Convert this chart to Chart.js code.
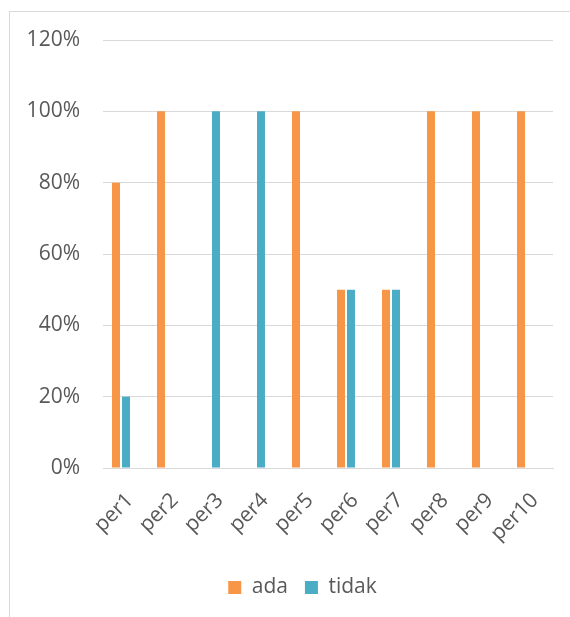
<!DOCTYPE html>
<html>
<head>
<meta charset="utf-8">
<script src="https://cdn.jsdelivr.net/npm/chart.js@4.4.0/dist/chart.umd.min.js"></script>
<style>
  html, body { margin: 0; padding: 0; background: #ffffff; overflow: hidden; }
  #wrap { position: relative; width: 570px; height: 617px; }
  #frame { position: absolute; left: 9px; top: 11px; width: 600px; height: 700px; border: 1px solid #d9d9d9; box-sizing: border-box; }
  canvas { position: absolute; left: 0; top: 0; }
</style>
</head>
<body>
<div id="wrap">
  <div id="frame"></div>
  <canvas id="c" width="570" height="617"></canvas>
</div>
<script>
const categories = ['per1', 'per2', 'per3', 'per4', 'per5', 'per6', 'per7', 'per8', 'per9', 'per10'];
const adaValues = [80, 100, 0, 0, 100, 50, 50, 100, 100, 100];
const tidakValues = [20, 0, 100, 100, 0, 50, 50, 0, 0, 0];
const yTicks = [0, 20, 40, 60, 80, 100, 120];

const fontFamily = '"Open Sans", "Liberation Sans", sans-serif';
const textColor = '#595959';

const legendShift = {
  id: 'legendShift',
  afterLayout(chart) {
    if (chart.legend) { chart.legend.left += 26; chart.legend.right += 26; }
  }
};

const toPoints = (vals) => vals.map((v, i) => ({ x: i + 1, y: v }));

new Chart(document.getElementById('c'), {
  type: 'bar',
  data: {
    datasets: [
      { label: 'ada', data: toPoints(adaValues), backgroundColor: '#F79646', borderWidth: 0,
        categoryPercentage: 0.444, barPercentage: 0.8 },
      { label: 'tidak', data: toPoints(tidakValues), backgroundColor: '#4BACC6', borderWidth: 0,
        categoryPercentage: 0.444, barPercentage: 0.8 }
    ]
  },
  plugins: [legendShift],
  options: {
    responsive: false,
    animation: false,
    devicePixelRatio: 1,
    layout: { padding: { top: 40, right: 17, bottom: 9, left: 0 } },
    plugins: {
      tooltip: { enabled: false },
      legend: {
        position: 'bottom',
        labels: {
          boxWidth: 13, boxHeight: 13, padding: 17,
          color: textColor,
          font: { family: fontFamily, size: 21 }
        }
      }
    },
    scales: {
      x: {
        type: 'linear',
        min: 0.6, max: 10.6,
        offset: false,
        afterBuildTicks: (s) => { s.ticks = categories.map((c, i) => ({ value: i + 1 })); },
        grid: { display: false, drawTicks: false },
        border: { display: true, color: '#d9d9d9', width: 1 },
        ticks: {
          color: textColor, font: { family: fontFamily, size: 21 },
          minRotation: 45, maxRotation: 45, padding: 20, autoSkip: false,
          labelOffset: 9,
          callback: (v, i) => categories[i]
        },
        afterFit: (s) => { s.height = 92; }
      },
      y: {
        min: 0, max: 120,
        afterBuildTicks: (s) => { s.ticks = yTicks.map(v => ({ value: v })); },
        grid: { color: '#d9d9d9', lineWidth: 1, drawTicks: false },
        border: { display: false },
        ticks: {
          color: textColor, font: { family: fontFamily, size: 21 },
          padding: 23,
          callback: (v) => v + '%'
        },
        afterFit: (s) => { s.width = 103; }
      }
    }
  }
});
</script>
</body>
</html>
